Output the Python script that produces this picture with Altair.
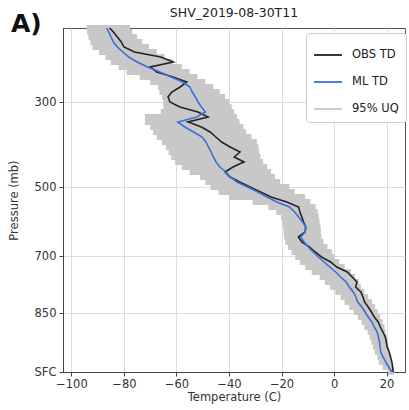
import altair as alt
import pandas as pd

# ---- data ----
level = list(range(69)) + [68.8]   # vertical level index, 0 = surface

obs_td = [22.5, 22.3, 22.0, 21.5, 21.0, 20.2, 19.9, 19.5, 18.6, 17.6,
          16.8, 15.3, 14.2, 13.0, 11.6, 11.0, 10.2, 8.2, 8.7, 6.9,
          5.0, 1.0, -1.3, -4.8, -7.2, -9.4, -12.3, -13.6, -11.0, -10.8,
          -11.6, -12.3, -13.0, -13.5, -18.0, -24.0, -28.0, -32.0, -36.0, -39.6,
          -41.5, -38.5, -34.3, -38.0, -35.8, -39.6, -42.8, -45.0, -47.2, -50.5,
          -55.6, -48.0, -51.8, -58.7, -62.5, -63.2, -61.8, -58.6, -56.1, -61.3,
          -67.5, -70.0, -61.2, -66.0, -76.0, -80.0, -81.0, -82.5, -84.0, -85.5]

ml_td = [22.0, 20.8, 19.7, 18.6, 17.8, 17.5, 17.3, 16.9, 16.4, 15.3,
         14.4, 13.0, 11.8, 10.6, 9.0, 8.3, 7.3, 5.8, 4.6, 2.5,
         0.6, -1.6, -3.8, -6.0, -8.0, -9.8, -11.4, -12.7, -11.0, -10.8,
         -12.0, -13.5, -15.0, -17.0, -21.8, -25.5, -29.0, -33.0, -37.0, -39.5,
         -41.2, -43.5, -44.9, -46.0, -46.8, -47.8, -48.8, -50.2, -53.5, -56.8,
         -59.5, -52.3, -49.0, -50.5, -51.8, -52.8, -54.0, -54.9, -57.7, -62.0,
         -66.3, -71.0, -75.0, -78.2, -80.4, -82.5, -84.0, -84.9, -85.8, -86.6]

uq_lo = [20.5, 18.5, 17.0, 16.5, 15.5, 14.8, 14.2, 13.6, 12.8, 11.5,
         10.4, 9.0, 7.5, 5.8, 4.0, 2.5, 0.5, -1.5, -3.5, -5.5,
         -8.5, -11.0, -13.0, -14.8, -16.2, -17.5, -18.6, -19.0, -19.2, -19.4,
         -19.8, -20.2, -22.0, -25.0, -31.0, -40.0, -44.0, -47.0, -49.0, -51.0,
         -55.0, -58.0, -60.5, -62.0, -63.0, -64.0, -65.5, -67.5, -69.0, -70.0,
         -72.0, -72.0, -66.0, -65.0, -65.0, -65.5, -66.5, -67.0, -70.0, -74.0,
         -79.0, -82.0, -85.0, -87.0, -89.5, -92.0, -92.8, -93.5, -94.0, -94.2]

uq_hi = [22.8, 22.3, 21.8, 21.3, 21.0, 20.7, 20.4, 20.0, 19.6, 19.2,
         18.5, 17.5, 16.6, 15.6, 14.5, 13.0, 11.5, 10.2, 9.4, 8.0,
         6.4, 4.0, 2.0, 0.0, -0.8, -2.5, -4.0, -4.8, -5.0, -5.2,
         -5.5, -5.8, -6.2, -7.0, -9.0, -11.0, -15.0, -17.0, -20.5, -22.5,
         -24.0, -25.5, -27.0, -28.0, -28.5, -28.8, -29.4, -31.5, -33.5, -34.5,
         -36.0, -37.0, -38.0, -39.0, -40.0, -41.5, -43.5, -46.0, -49.0, -52.0,
         -55.0, -58.0, -61.5, -64.5, -67.5, -70.5, -73.0, -75.0, -76.8, -77.7]

tick_levels = [0, 11.8, 23.2, 37, 54]
tick_labels = ["SFC", "850", "700", "500", "300"]
x_ticks = [-100, -80, -60, -40, -20, 0, 20]
series_names = ["OBS TD", "ML TD", "95% UQ"]
series_colors = ["#222222", "#3a70d6", "#c8c8c8"]
title_text = "SHV_2019-08-30T11"
panel_text = "A)"

n = len(level)
obs_df = pd.DataFrame({"level": level, "temp": obs_td, "series": ["OBS TD"] * n})
ml_df = pd.DataFrame({"level": level, "temp": ml_td, "series": ["ML TD"] * n})
band_df = pd.DataFrame({"level": level, "lo": uq_lo, "hi": uq_hi, "series": ["95% UQ"] * n})
panel_df = pd.DataFrame({"label": [panel_text]})
title_df = pd.DataFrame({"label": [title_text]})

label_expr = "''"
for v, t in zip(reversed(tick_levels), reversed(tick_labels)):
    label_expr = f"datum.value == {v} ? '{t}' : ({label_expr})"

FONT = "DejaVu Sans"
x_scale = alt.Scale(domain=[-103.2, 27], nice=False, zero=False)
y_scale = alt.Scale(domain=[0, 68.8], nice=False, zero=False)

x_axis = alt.Axis(values=x_ticks, title="Temperature (C)", grid=True,
                  labelPadding=2, titlePadding=2, tickSize=4)
y_axis = alt.Axis(values=tick_levels, labelExpr=label_expr, title="Pressure (mb)",
                  grid=True, tickSize=4, labelPadding=3, titlePadding=15)

color = alt.Color(
    "series:N",
    scale=alt.Scale(domain=series_names, range=series_colors),
    legend=alt.Legend(
        title=None, orient="none", legendX=243, legendY=5,
        symbolType="stroke", symbolSize=784, symbolStrokeWidth=1.8,
        labelFont=FONT, labelFontSize=11.5, labelColor="#222",
        labelOffset=9, rowPadding=6, padding=7,
        fillColor="white", strokeColor="#cccccc", cornerRadius=3,
    ),
)

band = alt.Chart(band_df).mark_rule(strokeWidth=5.8).encode(
    x=alt.X("lo:Q", scale=x_scale, axis=x_axis),
    x2="hi:Q",
    y=alt.Y("level:Q", scale=y_scale, axis=y_axis),
    color=color,
)

obs_line = alt.Chart(obs_df).mark_line(strokeWidth=1.6).encode(
    x=alt.X("temp:Q", scale=x_scale),
    y=alt.Y("level:Q", scale=y_scale),
    order="level:Q",
    color=color,
)

ml_line = alt.Chart(ml_df).mark_line(strokeWidth=1.6).encode(
    x=alt.X("temp:Q", scale=x_scale),
    y=alt.Y("level:Q", scale=y_scale),
    order="level:Q",
    color=color,
)

panel = alt.Chart(panel_df).mark_text(
    font=FONT, fontSize=25, fontWeight="bold", align="left", baseline="middle", color="#111"
).encode(x=alt.value(-52), y=alt.value(-4), text="label:N")

title = alt.Chart(title_df).mark_text(
    font=FONT, fontSize=12.5, align="center", baseline="alphabetic", color="#222"
).encode(x=alt.value(171), y=alt.value(-11), text="label:N")

chart = alt.layer(band, obs_line, ml_line, panel, title).properties(
    width=342, height=344,
    padding={"left": 63, "top": 28, "right": 4, "bottom": 38},
    autosize=alt.AutoSizeParams(type="none"),
).configure_view(
    stroke="#555", strokeWidth=1
).configure_axis(
    domainColor="#444", tickColor="#444", gridColor="#dcdcdc",
    labelColor="#333", titleColor="#333",
    labelFont=FONT, titleFont=FONT, labelFontSize=11.5, titleFontSize=11.5,
    titleFontWeight="normal",
)

chart.save("out.html", embed_options={"renderer": "svg", "actions": False})
